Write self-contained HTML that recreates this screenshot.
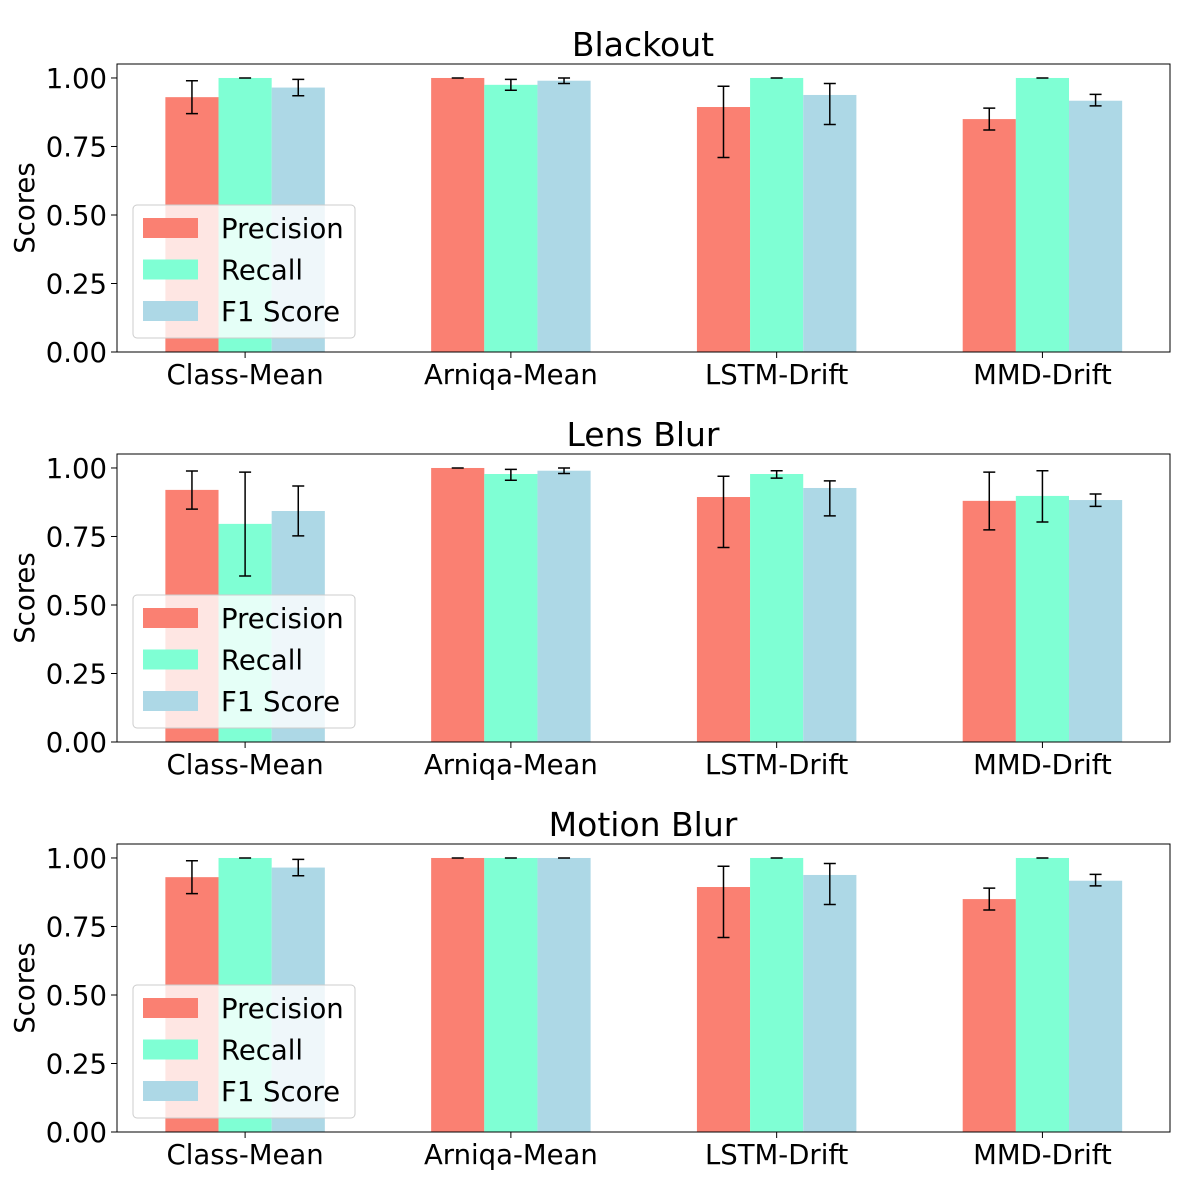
<!DOCTYPE html>
<html><head><meta charset="utf-8"><style>
html,body{margin:0;padding:0;background:#fff;}
svg{display:block;font-family:"DejaVu Sans","Liberation Sans",sans-serif;}
</style></head><body>
<svg id="chart" width="1200" height="1200" viewBox="0 0 1200 1200" xmlns="http://www.w3.org/2000/svg"></svg>
<script>
const categories = ["Class-Mean","Arniqa-Mean","LSTM-Drift","MMD-Drift"];
const seriesNames = ["Precision","Recall","F1 Score"];
const panelTitles = ["Blackout","Lens Blur","Motion Blur"];
const yTicks = [0,0.25,0.5,0.75,1.0];
const yTickLabels = ["0.00","0.25","0.50","0.75","1.00"];
// values[panel][series][category]
const blackoutValues = [[0.93,1.0,0.894,0.85],[1.0,0.975,1.0,1.0],[0.965,0.99,0.938,0.917]];
const blackoutLow = [[0.87,1.0,0.71,0.81],[1.0,0.955,1.0,1.0],[0.935,0.98,0.83,0.898]];
const blackoutHigh = [[0.99,1.0,0.97,0.89],[1.0,0.995,1.0,1.0],[0.995,1.0,0.98,0.94]];
const lensValues = [[0.92,1.0,0.894,0.88],[0.796,0.978,0.978,0.898],[0.843,0.99,0.927,0.883]];
const lensLow = [[0.85,1.0,0.71,0.774],[0.606,0.955,0.963,0.803],[0.752,0.98,0.825,0.86]];
const lensHigh = [[0.989,1.0,0.97,0.985],[0.985,0.995,0.99,0.99],[0.934,1.0,0.953,0.905]];
const motionValues = [[0.93,1.0,0.894,0.85],[1.0,1.0,1.0,1.0],[0.965,1.0,0.938,0.917]];
const motionLow = [[0.87,1.0,0.71,0.81],[1.0,1.0,1.0,1.0],[0.935,1.0,0.83,0.898]];
const motionHigh = [[0.99,1.0,0.97,0.89],[1.0,1.0,1.0,1.0],[0.995,1.0,0.98,0.94]];
const allValues=[blackoutValues,lensValues,motionValues];
const allLow=[blackoutLow,lensLow,motionLow];
const allHigh=[blackoutHigh,lensHigh,motionHigh];
const colors=["#fa8072","#7fffd4","#add8e6"];
const NS="http://www.w3.org/2000/svg";
const svg=document.getElementById('chart');
function mk(tag,attrs,parent){const e=document.createElementNS(NS,tag);for(const k in attrs)e.setAttribute(k,attrs[k]);(parent||svg).appendChild(e);return e;}
const L=117,R=1170,H=288,tops=[64,454,844];
const xMin=-0.482,xMax=3.48,yMax=1.051;
function xs(v){return L+(v-xMin)/(xMax-xMin)*(R-L);}
for(let p=0;p<3;p++){
  const T=tops[p],B=T+H;
  const ys=v=>B-v/yMax*H;
  const g=mk('g',{});
  
  
  const bw=(xs(0.2)-xs(0));
  for(let s=0;s<3;s++){
    for(let c=0;c<4;c++){
      const v=allValues[p][s][c];
      const cx=xs(c+(s-1)*0.2);
      const r=mk('rect',{x:cx-bw/2,y:ys(v),width:bw,height:B-ys(v),fill:colors[s]},g);
      
      
      const lo=ys(allLow[p][s][c]),hi=ys(allHigh[p][s][c]);
      const e=mk('path',{d:`M${cx},${lo}V${hi}M${cx-6},${lo}H${cx+6}M${cx-6},${hi}H${cx+6}`,stroke:'#000','stroke-width':1.5,fill:'none'},g);
      
      
    }
  }
  const fr=mk('rect',{x:L,y:T,width:R-L,height:H,fill:'none',stroke:'#000','stroke-width':1},g);
  
  
  for(let i=0;i<yTicks.length;i++){
    const y=ys(yTicks[i]);
    mk('line',{x1:L-6,x2:L,y1:y,y2:y,stroke:'#000'},g);
    const t=mk('text',{x:L-10,y:y+10,'text-anchor':'end','font-size':27.5},g);
    t.textContent=yTickLabels[i];
    
    
  }
  for(let c=0;c<4;c++){
    const x=xs(c);
    mk('line',{x1:x,x2:x,y1:B,y2:B+6,stroke:'#000'},g);
    const t=mk('text',{x:x,y:B+32,'text-anchor':'middle','font-size':27.5},g);
    t.textContent=categories[c];
    
    
  }
  const tt=mk('text',{x:643,y:T-8,'text-anchor':'middle','font-size':33},g);
  tt.textContent=panelTitles[p];
  
  
  const yl=mk('text',{x:0,y:0,'text-anchor':'middle','font-size':27.5,transform:`translate(34,${T+H/2}) rotate(-90)`},g);
  yl.textContent='Scores';
  
  
  const lg=mk('g',{},g);
  
  
  mk('rect',{x:133,y:T+141,width:222,height:133,rx:4,fill:'#fff','fill-opacity':0.8,stroke:'#ccc'},lg);
  for(let s=0;s<3;s++){
    const cy=T+164+s*41.5;
    mk('rect',{x:143,y:cy-10,width:55,height:20,fill:colors[s]},lg);
    const t=mk('text',{x:221,y:cy+10,'font-size':27.5},lg);
    t.textContent=seriesNames[s];
    
    
  }
}
</script>
</body></html>
